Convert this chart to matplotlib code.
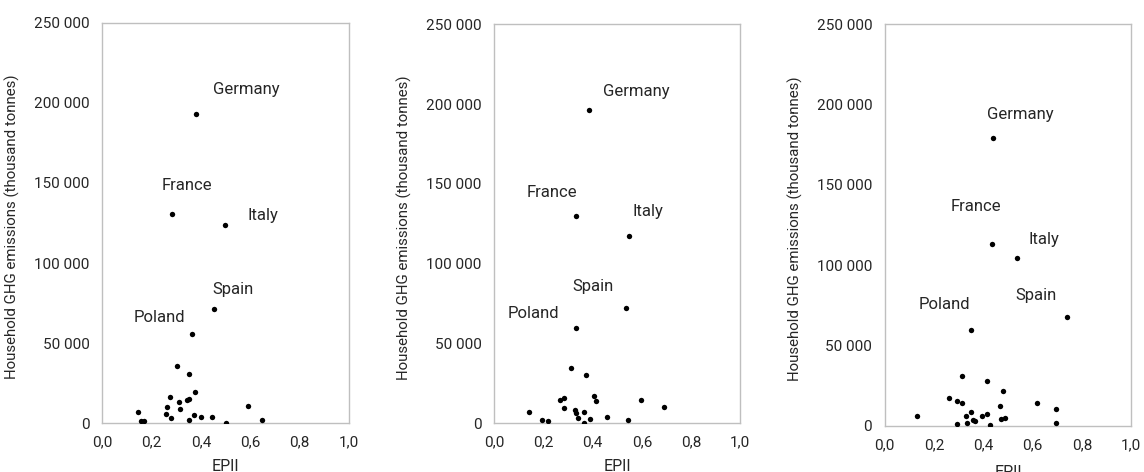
import matplotlib
matplotlib.use("Agg")
import matplotlib.pyplot as plt
from matplotlib.ticker import FuncFormatter

plt.rcParams["font.family"] = ["Roboto", "DejaVu Sans"]

COUNTRIES = ["Germany", "France", "Italy", "Spain", "Poland"]

# panel 1
P1_X = [0.379, 0.285, 0.499, 0.452, 0.365]
P1_Y = [192800, 130600, 124000, 71500, 55500]
P1_LABEL_X = [0.449, 0.243, 0.588, 0.447, 0.126]
P1_LABEL_Y = [208400, 148300, 129400, 83600, 66100]
P1_SMALL_X = [0.305, 0.351, 0.375, 0.274, 0.312, 0.343, 0.351, 0.265, 0.316, 0.147,
              0.259, 0.281, 0.372, 0.400, 0.447, 0.351, 0.590, 0.647, 0.502, 0.158, 0.168]
P1_SMALL_Y = [35950, 30950, 19350, 16600, 13500, 14550, 15150, 10000, 8900, 7050,
              6000, 3300, 5350, 3750, 3750, 1870, 10600, 1870, 200, 1400, 1400]

# panel 2
P2_X = [0.386, 0.332, 0.547, 0.534, 0.332]
P2_Y = [196100, 129700, 117200, 72500, 59900]
P2_LABEL_X = [0.440, 0.133, 0.560, 0.316, 0.053]
P2_LABEL_Y = [207800, 144700, 132600, 85600, 68500]
P2_SMALL_X = [0.311, 0.372, 0.405, 0.412, 0.285, 0.268, 0.282, 0.142, 0.327, 0.332,
              0.366, 0.339, 0.389, 0.363, 0.459, 0.598, 0.691, 0.543, 0.194, 0.218]
P2_SMALL_Y = [34460, 30270, 17300, 13780, 15850, 14400, 9590, 7080, 8150, 6640,
              7080, 3320, 2500, 200, 4140, 14400, 10000, 1880, 2070, 1440]

# panel 3
P3_X = [0.438, 0.435, 0.538, 0.741, 0.350]
P3_Y = [178800, 113300, 104600, 67800, 59500]
P3_LABEL_X = [0.414, 0.266, 0.582, 0.530, 0.139]
P3_LABEL_Y = [193800, 136500, 116000, 81300, 75700]
P3_SMALL_X = [0.315, 0.413, 0.478, 0.262, 0.293, 0.313, 0.616, 0.467, 0.693, 0.130, 0.351,
              0.330, 0.359, 0.367, 0.394, 0.413, 0.471, 0.488, 0.293, 0.334, 0.428, 0.696]
P3_SMALL_Y = [31100, 27600, 21400, 17200, 15170, 14100, 14100, 12060, 10400, 5850, 8530,
              5850, 3730, 2740, 6220, 7280, 4360, 4790, 1060, 1680, 620, 1680]

X_TICKS = [0.0, 0.2, 0.4, 0.6, 0.8, 1.0]
Y_TICKS = [0, 50000, 100000, 150000, 200000, 250000]

TEXT_COLOR = "#262626"
SPINE_COLOR = "#bfbfbf"

panels = [
    (P1_X, P1_Y, P1_LABEL_X, P1_LABEL_Y, P1_SMALL_X, P1_SMALL_Y),
    (P2_X, P2_Y, P2_LABEL_X, P2_LABEL_Y, P2_SMALL_X, P2_SMALL_Y),
    (P3_X, P3_Y, P3_LABEL_X, P3_LABEL_Y, P3_SMALL_X, P3_SMALL_Y),
]
# axes rectangles in figure fractions, plus xlabel offset
rects = [
    ([0.0892, 0.1032, 0.2159, 0.8487], -0.089),
    ([0.4321, 0.1032, 0.2150, 0.8453], -0.089),
    ([0.7733, 0.0981, 0.2156, 0.8510], -0.098),
]

fig = plt.figure(figsize=(11.44, 4.72), dpi=100)

for (xs, ys, lx, ly, sx, sy), (rect, xl_off) in zip(panels, rects):
    ax = fig.add_axes(rect)
    ax.scatter(sx + xs, sy + ys, s=15, color="black", zorder=3, linewidths=0)
    for name, tx, ty in zip(COUNTRIES, lx, ly):
        ax.text(tx, ty, name, fontsize=12, color=TEXT_COLOR, ha="left", va="center")

    ax.set_xlim(0, 1)
    ax.set_ylim(0, 250000)
    ax.set_xticks(X_TICKS)
    ax.set_yticks(Y_TICKS)
    ax.xaxis.set_major_formatter(FuncFormatter(lambda v, p: f"{v:.1f}".replace(".", ",")))
    ax.yaxis.set_major_formatter(FuncFormatter(lambda v, p: f"{int(v):,}".replace(",", " ")))
    ax.tick_params(length=0, pad=9, labelsize=11, colors=TEXT_COLOR)
    for sp in ax.spines.values():
        sp.set_color(SPINE_COLOR)
        sp.set_linewidth(1.0)

    ax.set_ylabel("Household GHG emissions (thousand tonnes)", fontsize=10.8, color=TEXT_COLOR)
    ax.yaxis.set_label_coords(-0.333, 0.49)
    ax.set_xlabel("EPII", fontsize=11.5, color=TEXT_COLOR)
    ax.xaxis.set_label_coords(0.5, xl_off)

fig.savefig("out.png", dpi=100)
